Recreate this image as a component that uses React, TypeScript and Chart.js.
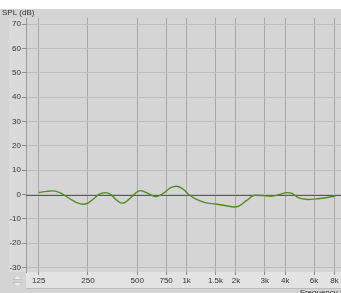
import React, { useEffect, useRef } from "react";
import { Chart, registerables } from "chart.js";

Chart.register(...registerables);

const freqs = [125, 140, 152, 165, 180, 200, 215, 232, 250, 270, 290, 320, 345, 370, 400, 420, 460, 520, 560, 650, 720, 800, 870, 950, 1040, 1150, 1295, 1500, 1750, 1950, 2100, 2330, 2600, 2900, 3250, 3600, 4100, 4400, 4800, 5500, 6300, 7200, 8100];
const spl = [0.8, 1.3, 1.5, 1.0, -0.3, -2.3, -3.4, -4.0, -3.5, -1.8, 0.0, 0.8, 0.0, -2.0, -3.5, -3.3, -1.0, 1.6, 1.0, -0.9, 0.5, 2.8, 3.4, 2.3, -0.2, -2.0, -3.3, -3.9, -4.6, -5.1, -4.6, -2.4, -0.3, -0.4, -0.7, -0.2, 0.8, 0.5, -1.3, -2.0, -1.7, -1.2, -0.6];
const xTickValues = [125, 250, 500, 750, 1000, 1500, 2000, 3000, 4000, 6000, 8000];
const xTickLabels = ["125", "250", "500", "750", "1k", "1.5k", "2k", "3k", "4k", "6k", "8k"];
const yTickValues = [-30, -20, -10, 0, 10, 20, 30, 40, 50, 60, 70];
const yTitle = "SPL (dB)";
const xTitle = "Frequency | Hz";

const W = 341;
const H = 293;

const panelPlugin = {
  id: "panels",
  beforeDraw(chart: any) {
    const ctx = chart.ctx;
    const a = chart.chartArea;
    ctx.save();
    ctx.fillStyle = "#d4d4d4";
    ctx.fillRect(0, 0, W, H);
    ctx.fillStyle = "#ffffff";
    ctx.fillRect(0, 0, W, 9);
    // y-axis panel
    ctx.fillStyle = "#dadada";
    ctx.fillRect(9, a.top, a.left - 9, a.bottom - a.top);
    // x-axis panel
    ctx.fillStyle = "#e3e3e3";
    ctx.fillRect(a.left, a.bottom, W - a.left, 16);
    ctx.strokeStyle = "#bdbdbd";
    ctx.lineWidth = 1;
    ctx.beginPath();
    ctx.moveTo(a.left, a.bottom + 16.5);
    ctx.lineTo(W, a.bottom + 16.5);
    ctx.stroke();
    // plot area
    ctx.fillStyle = "#d5d5d5";
    ctx.fillRect(a.left, a.top, a.right - a.left, a.bottom - a.top);
    // spinner
    ctx.fillStyle = "#ececec";
    ctx.strokeStyle = "#c4c4c4";
    ctx.beginPath();
    ctx.moveTo(13, 279.5);
    ctx.lineTo(17.5, 275);
    ctx.lineTo(22, 279.5);
    ctx.closePath();
    ctx.fill();
    ctx.stroke();
    ctx.beginPath();
    ctx.moveTo(13, 282.5);
    ctx.lineTo(17.5, 287);
    ctx.lineTo(22, 282.5);
    ctx.closePath();
    ctx.fill();
    ctx.stroke();
    // titles
    ctx.fillStyle = "#333333";
    ctx.font = "8px 'Liberation Sans', sans-serif";
    ctx.textBaseline = "alphabetic";
    ctx.textAlign = "left";
    ctx.fillText(yTitle, 2, 15);
    ctx.fillText(xTitle, 300, 295);
    ctx.restore();
  },
  beforeDatasetsDraw(chart: any) {
    const ctx = chart.ctx;
    const a = chart.chartArea;
    const y0 = Math.round(chart.scales.y.getPixelForValue(0)) + 0.5;
    ctx.save();
    ctx.strokeStyle = "#595959";
    ctx.lineWidth = 1;
    ctx.beginPath();
    ctx.moveTo(a.left, y0);
    ctx.lineTo(a.right, y0);
    ctx.stroke();
    ctx.restore();
  },
};

export default function App() {
  const ref = useRef<HTMLCanvasElement | null>(null);
  useEffect(() => {
    document.body.style.margin = "0";
    const canvas = ref.current;
    if (!canvas) return;
    const chart = new Chart(canvas, {
      type: "line",
      data: {
        datasets: [
          {
            data: freqs.map((f, i) => ({ x: f, y: spl[i] })),
            borderColor: "#4f8f1f",
            borderWidth: 1.4,
            pointRadius: 0,
            cubicInterpolationMode: "monotone",
            fill: false,
          },
        ],
      },
      options: {
        animation: false,
        responsive: false,
        devicePixelRatio: 1,
        layout: { padding: { top: 18, left: 0, right: 0, bottom: 0 } },
        plugins: { legend: { display: false }, tooltip: { enabled: false } },
        scales: {
          x: {
            type: "logarithmic",
            min: 104.6,
            max: 8760,
            afterFit(s: any) {
              s.height = 21;
            },
            afterBuildTicks(s: any) {
              s.ticks = xTickValues.map((v) => ({ value: v }));
            },
            grid: { color: "#a8a8a8", lineWidth: 1, tickLength: 3, tickColor: "#8a8a8a", drawOnChartArea: true },
            border: { display: false },
            ticks: {
              autoSkip: false,
              maxRotation: 0,
              padding: 1,
              color: "#333333",
              font: { family: "'Liberation Sans', sans-serif", size: 8 },
              callback(value: any) {
                const i = xTickValues.indexOf(Number(value));
                return i >= 0 ? xTickLabels[i] : "";
              },
            },
          },
          y: {
            type: "linear",
            min: -31.8,
            max: 72.5,
            afterFit(s: any) {
              s.width = 26;
            },
            afterBuildTicks(s: any) {
              s.ticks = yTickValues.map((v) => ({ value: v }));
            },
            grid: { color: "#bdbdbd", lineWidth: 1, tickLength: 4, tickColor: "#8a8a8a" },
            border: { display: true, color: "#9a9a9a" },
            ticks: {
              padding: 1,
              color: "#333333",
              font: { family: "'Liberation Sans', sans-serif", size: 8 },
              callback(value: any) {
                return String(value);
              },
            },
          },
        },
      },
      plugins: [panelPlugin],
    } as any);
    return () => chart.destroy();
  }, []);
  return (
    <div style={{ width: W, height: H }}>
      <canvas ref={ref} width={W} height={H} style={{ display: "block", width: W, height: H }} />
    </div>
  );
}
